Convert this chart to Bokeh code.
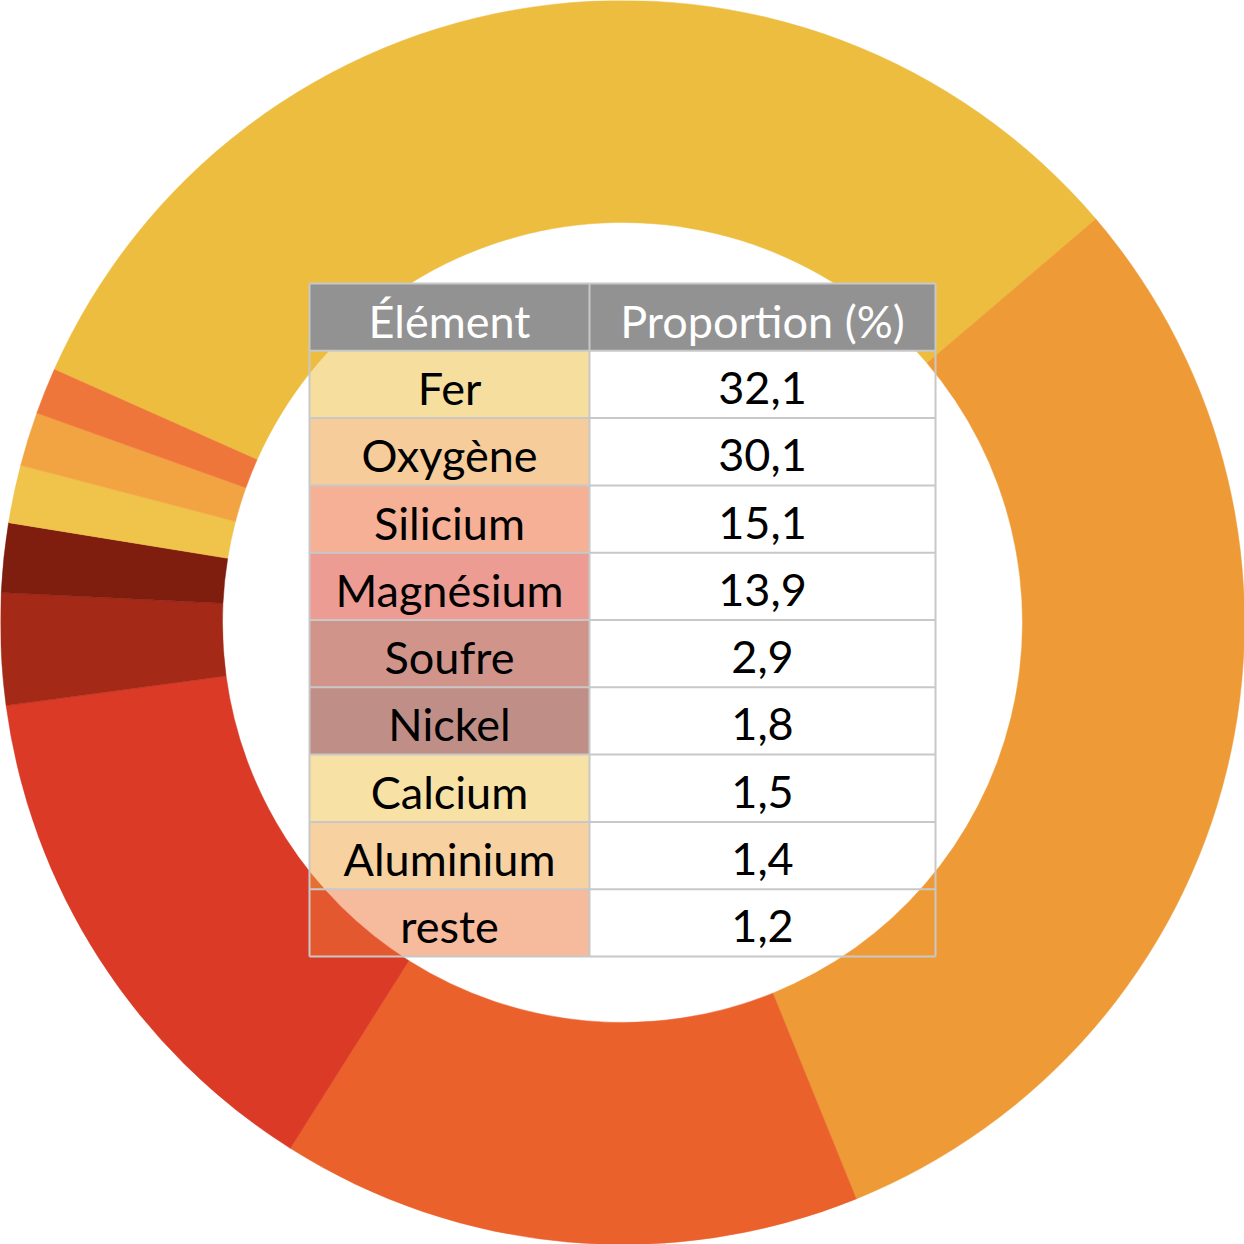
import math
from bokeh.plotting import figure
from bokeh.models import Range1d, ColumnDataSource
from bokeh.core.properties import value
from bokeh.embed import file_html
from bokeh.resources import INLINE

# ---- data ----
elements = ["Fer", "Oxygène", "Silicium", "Magnésium", "Soufre", "Nickel", "Calcium", "Aluminium", "reste"]
proportions = [32.1, 30.1, 15.1, 13.9, 2.9, 1.8, 1.5, 1.4, 1.2]
labels = ["32,1", "30,1", "15,1", "13,9", "2,9", "1,8", "1,5", "1,4", "1,2"]
colors = ["#EDBD40", "#EE9A37", "#EB612C", "#DA3A26", "#A42A17", "#7F1D0F", "#F0C34B", "#F2A443", "#EE763A"]
headers = ["Élément", "Proportion (%)"]

W = H = 1244
FONT = "Lato"
FS = "45px"

p = figure(width=W, height=H, x_range=Range1d(0, W), y_range=Range1d(0, H),
           output_backend="svg", toolbar_location=None, min_border=0)
p.axis.visible = False
p.grid.visible = False
p.outline_line_color = None
p.background_fill_color = "white"

# ---- donut ----
cx, cy = 622, 622
r_in, r_out = 400, 622
a0 = math.radians(156.0)
total = sum(proportions)
starts, ends = [], []
cum = 0.0
for v in proportions:
    starts.append(a0 - 2 * math.pi * cum / total)
    cum += v
    ends.append(a0 - 2 * math.pi * cum / total)

src = ColumnDataSource(dict(x=[cx] * len(elements), y=[cy] * len(elements),
                            start=starts, end=ends, color=colors))
p.annular_wedge(x="x", y="y", inner_radius=r_in, outer_radius=r_out,
                start_angle="start", end_angle="end", direction="clock",
                fill_color="color", line_color="color", line_width=0.5, source=src)

# ---- table ----
x_left, x_mid, x_right = 309, 589, 935
top = H - 283
row_h = 67.3
n = len(elements)

# header
p.quad(left=[x_left], right=[x_right], top=[top], bottom=[top - row_h],
       fill_color="#929292", line_color=None)

row_tops = [top - row_h * (i + 1) for i in range(n)]
p.quad(left=[x_left] * n, right=[x_mid] * n, top=row_tops,
       bottom=[t - row_h for t in row_tops], fill_color=colors, fill_alpha=0.5,
       line_color=None)

# grid lines
ys = [top - row_h * i for i in range(n + 2)]
p.multi_line(xs=[[x_left, x_right]] * len(ys), ys=[[y, y] for y in ys],
             line_color="#C8C8C8", line_width=2)
bottom = ys[-1]
p.multi_line(xs=[[x, x] for x in (x_left, x_mid, x_right)],
             ys=[[top, bottom]] * 3, line_color="#C8C8C8", line_width=2)

cx_el = (x_left + x_mid) / 2
cx_val = (x_mid + x_right) / 2
off = 3.5
hy = top - row_h / 2 - off
p.text(x=[cx_el, cx_val], y=[hy, hy], text=headers, text_align="center",
       text_baseline="middle", text_font=value(FONT), text_font_size=FS,
       text_color="white")

row_c = [t - row_h / 2 - off for t in row_tops]
p.text(x=[cx_el] * n, y=row_c, text=elements, text_align="center",
       text_baseline="middle", text_font=value(FONT), text_font_size=FS,
       text_color="black")
p.text(x=[cx_val] * n, y=row_c, text=labels, text_align="center",
       text_baseline="middle", text_font=value(FONT), text_font_size=FS,
       text_color="black")

open("out.html", "w").write(file_html(p, INLINE))
